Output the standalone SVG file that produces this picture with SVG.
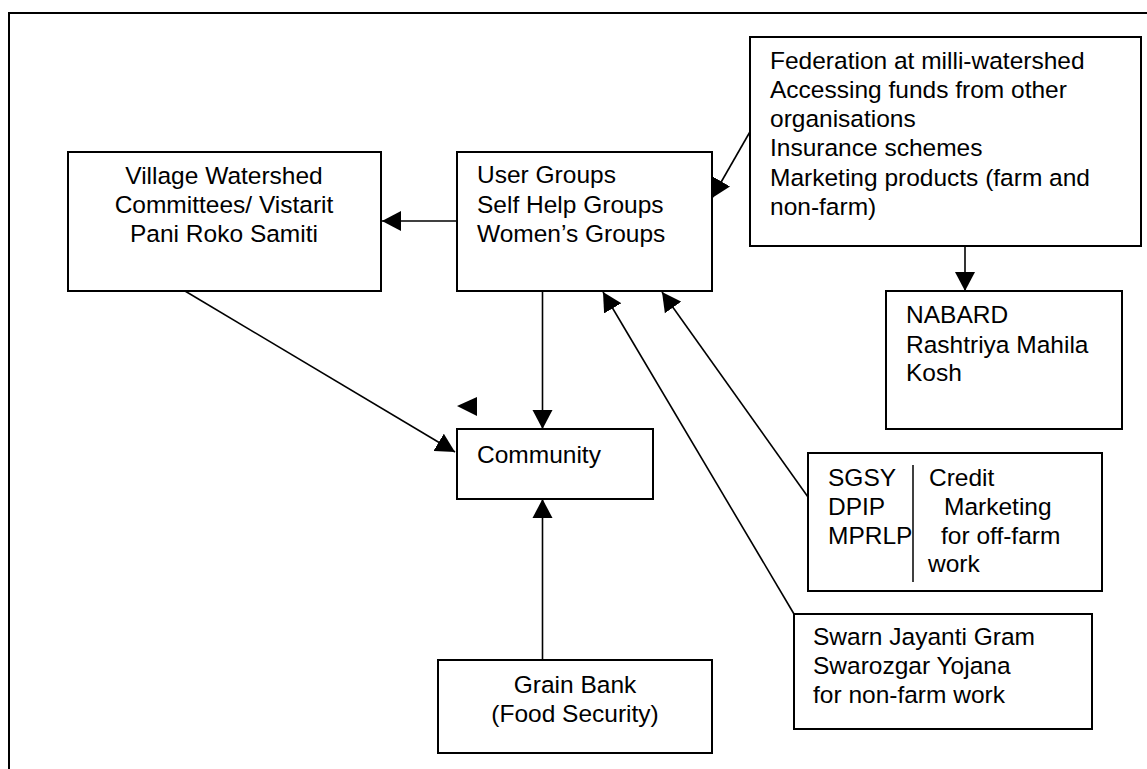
<svg xmlns="http://www.w3.org/2000/svg" width="1147" height="769" viewBox="0 0 1147 769">
<style>
.box{fill:#fff;stroke:#000;stroke-width:2}
.t{font-family:"Liberation Sans",Arial,sans-serif;font-size:24.5px;fill:#000}
.c{text-anchor:middle}
.ln{stroke:#000;stroke-width:1.6;fill:none}
</style>
<defs>
<marker id="ah" markerUnits="userSpaceOnUse" markerWidth="21" markerHeight="21" refX="19" refY="10.5" orient="auto">
<path d="M0,0.5 L19,10.5 L0,20.5 z" fill="#000"/>
</marker>
</defs>
<rect x="9" y="13" width="1160" height="790" fill="none" stroke="#000" stroke-width="2"/>
<g id="connectors">
<line class="ln" x1="457" y1="221" x2="382" y2="221" marker-end="url(#ah)"/>
<line class="ln" x1="751" y1="130" x2="712" y2="198" marker-end="url(#ah)"/>
<line class="ln" x1="965" y1="246" x2="965" y2="291" marker-end="url(#ah)"/>
<line class="ln" x1="542.5" y1="291" x2="542.5" y2="429" marker-end="url(#ah)"/>
<line class="ln" x1="542.5" y1="660" x2="542.5" y2="499" marker-end="url(#ah)"/>
<line class="ln" x1="185" y1="291" x2="455" y2="452" marker-end="url(#ah)"/>
<line class="ln" x1="794" y1="614" x2="603" y2="292" marker-end="url(#ah)"/>
<line class="ln" x1="808" y1="497" x2="662" y2="292" marker-end="url(#ah)"/>
<polygon points="457,406 477,397 477,416" fill="#000"/>
</g>
<g id="village">
<rect class="box" x="68" y="152" width="313" height="139"/>
<text class="t c" x="224" y="184">Village Watershed</text>
<text class="t c" x="224" y="213">Committees/ Vistarit</text>
<text class="t c" x="224" y="242">Pani Roko Samiti</text>
</g>
<g id="usergroups">
<rect class="box" x="457" y="152" width="255" height="139"/>
<text class="t" x="477" y="183">User Groups</text>
<text class="t" x="477" y="213">Self Help Groups</text>
<text class="t" x="477" y="242">Women’s Groups</text>
</g>
<g id="federation">
<rect class="box" x="750" y="37" width="391" height="209"/>
<text class="t" x="770" y="69">Federation at milli-watershed</text>
<text class="t" x="770" y="98">Accessing funds from other</text>
<text class="t" x="770" y="127">organisations</text>
<text class="t" x="770" y="156">Insurance schemes</text>
<text class="t" x="770" y="186">Marketing products (farm and</text>
<text class="t" x="770" y="215">non-farm)</text>
</g>
<g id="nabard">
<rect class="box" x="886" y="291" width="236" height="138"/>
<text class="t" x="906" y="323">NABARD</text>
<text class="t" x="906" y="353">Rashtriya Mahila</text>
<text class="t" x="906" y="381">Kosh</text>
</g>
<g id="community">
<rect class="box" x="457" y="429" width="196" height="70"/>
<text class="t" x="477" y="463">Community</text>
</g>
<g id="sgsy">
<rect class="box" x="808" y="453" width="294" height="138"/>
<line x1="913" y1="465" x2="913" y2="582" stroke="#000" stroke-width="1.5"/>
<text class="t" x="828" y="486">SGSY</text>
<text class="t" x="828" y="515">DPIP</text>
<text class="t" x="828" y="544">MPRLP</text>
<text class="t" x="929" y="486">Credit</text>
<text class="t" x="944" y="515">Marketing</text>
<text class="t" x="941" y="544">for off-farm</text>
<text class="t" x="928" y="572">work</text>
</g>
<g id="swarn">
<rect class="box" x="794" y="614" width="298" height="115"/>
<text class="t" x="813" y="645">Swarn Jayanti Gram</text>
<text class="t" x="813" y="674">Swarozgar Yojana</text>
<text class="t" x="813" y="703">for non-farm work</text>
</g>
<g id="grainbank">
<rect class="box" x="438" y="660" width="274" height="93"/>
<text class="t c" x="575" y="693">Grain Bank</text>
<text class="t c" x="575" y="722">(Food Security)</text>
</g>
</svg>
